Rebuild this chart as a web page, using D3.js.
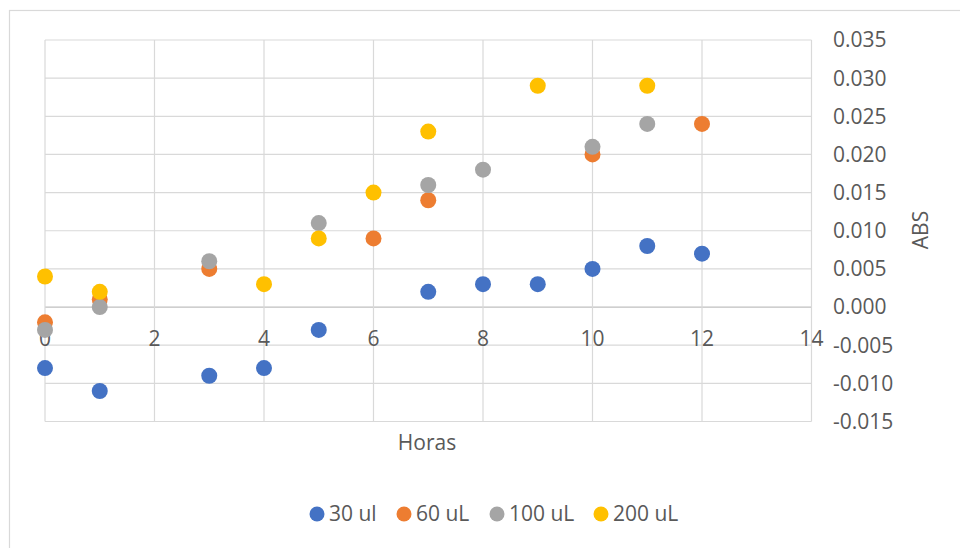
<!DOCTYPE html>
<html>
<head>
<meta charset="utf-8">
<script src="https://cdn.jsdelivr.net/npm/d3@7/dist/d3.min.js"></script>
<style>
  html, body { margin: 0; padding: 0; background: #fff; }
  svg { display: block; font-family: "Open Sans", "Liberation Sans", sans-serif; }
</style>
</head>
<body>
<svg id="chart" width="960" height="548"></svg>
<script>
// Absorbance readings over time for four sample volumes
const seriesNames = ["30 ul", "60 uL", "100 uL", "200 uL"];
const seriesColors = ["#4472C4", "#ED7D31", "#A5A5A5", "#FFC000"];

const hours30 = [0, 1, 3, 4, 5, 7, 8, 9, 10, 11, 12];
const abs30 = [-0.008, -0.011, -0.009, -0.008, -0.003, 0.002, 0.003, 0.003, 0.005, 0.008, 0.007];

const hours60 = [0, 1, 3, 6, 7, 10, 12];
const abs60 = [-0.002, 0.001, 0.005, 0.009, 0.014, 0.020, 0.024];

const hours100 = [0, 1, 3, 5, 7, 8, 10, 11];
const abs100 = [-0.003, 0.000, 0.006, 0.011, 0.016, 0.018, 0.021, 0.024];

const hours200 = [0, 1, 4, 5, 6, 7, 9, 11];
const abs200 = [0.004, 0.002, 0.003, 0.009, 0.015, 0.023, 0.029, 0.029];

const xTicks = [0, 2, 4, 6, 8, 10, 12, 14];
const yTicks = [-0.015, -0.010, -0.005, 0.000, 0.005, 0.010, 0.015, 0.020, 0.025, 0.030, 0.035];

const series = [
  { name: seriesNames[0], color: seriesColors[0], xs: hours30, ys: abs30 },
  { name: seriesNames[1], color: seriesColors[1], xs: hours60, ys: abs60 },
  { name: seriesNames[2], color: seriesColors[2], xs: hours100, ys: abs100 },
  { name: seriesNames[3], color: seriesColors[3], xs: hours200, ys: abs200 }
];

const svg = d3.select("#chart");
const plot = { left: 45, right: 811.5, top: 40, bottom: 421.5 };

const x = d3.scaleLinear().domain([0, 14]).range([plot.left, plot.right]);
const y = d3.scaleLinear().domain([-0.015, 0.035]).range([plot.bottom, plot.top]);

const textColor = "#595959";
const gridColor = "#d9d9d9";
const fontSize = 21;

// chart frame
svg.append("rect")
  .attr("x", 9.5).attr("y", 10.5)
  .attr("width", 1000).attr("height", 600)
  .attr("fill", "none").attr("stroke", gridColor).attr("stroke-width", 1.2);

// horizontal gridlines
svg.append("g").selectAll("line").data(yTicks).join("line")
  .attr("x1", plot.left).attr("x2", plot.right)
  .attr("y1", d => y(d)).attr("y2", d => y(d))
  .attr("stroke", d => d === 0 ? "#bfbfbf" : gridColor)
  .attr("stroke-width", 1.2);

// vertical gridlines
svg.append("g").selectAll("line").data(xTicks).join("line")
  .attr("y1", plot.top).attr("y2", plot.bottom)
  .attr("x1", d => x(d)).attr("x2", d => x(d))
  .attr("stroke", gridColor)
  .attr("stroke-width", 1.2);

// x tick labels sit just below the zero line
svg.append("g").selectAll("text").data(xTicks).join("text")
  .attr("x", d => x(d))
  .attr("y", y(0) + 39)
  .attr("text-anchor", "middle")
  .attr("fill", textColor)
  .attr("font-size", fontSize)
  .text(d => d);

// y tick labels on the right
const fmt = d3.format(".3f");
svg.append("g").selectAll("text").data(yTicks).join("text")
  .attr("x", 833)
  .attr("y", d => y(d))
  .attr("dy", "0.35em")
  .attr("fill", textColor)
  .attr("font-size", fontSize)
  .text(d => fmt(d).replace("−", "-"));

// axis titles
svg.append("text")
  .attr("x", 427).attr("y", 450)
  .attr("text-anchor", "middle")
  .attr("fill", textColor).attr("font-size", fontSize)
  .text("Horas");

svg.append("text")
  .attr("transform", "translate(928,230) rotate(-90)")
  .attr("text-anchor", "middle")
  .attr("fill", textColor).attr("font-size", fontSize)
  .text("ABS");

// data points
series.forEach(s => {
  svg.append("g").selectAll("circle")
    .data(s.xs.map((h, i) => [h, s.ys[i]]))
    .join("circle")
    .attr("cx", d => x(d[0]))
    .attr("cy", d => y(d[1]))
    .attr("r", 8)
    .attr("fill", s.color);
});

// legend
const legendX = [317, 404, 497, 601];
const legend = svg.append("g");
series.forEach((s, i) => {
  legend.append("circle")
    .attr("cx", legendX[i]).attr("cy", 514).attr("r", 7.5)
    .attr("fill", s.color);
  legend.append("text")
    .attr("x", legendX[i] + 12).attr("y", 514)
    .attr("dy", "0.35em")
    .attr("fill", textColor).attr("font-size", fontSize)
    .text(s.name);
});
</script>
</body>
</html>
